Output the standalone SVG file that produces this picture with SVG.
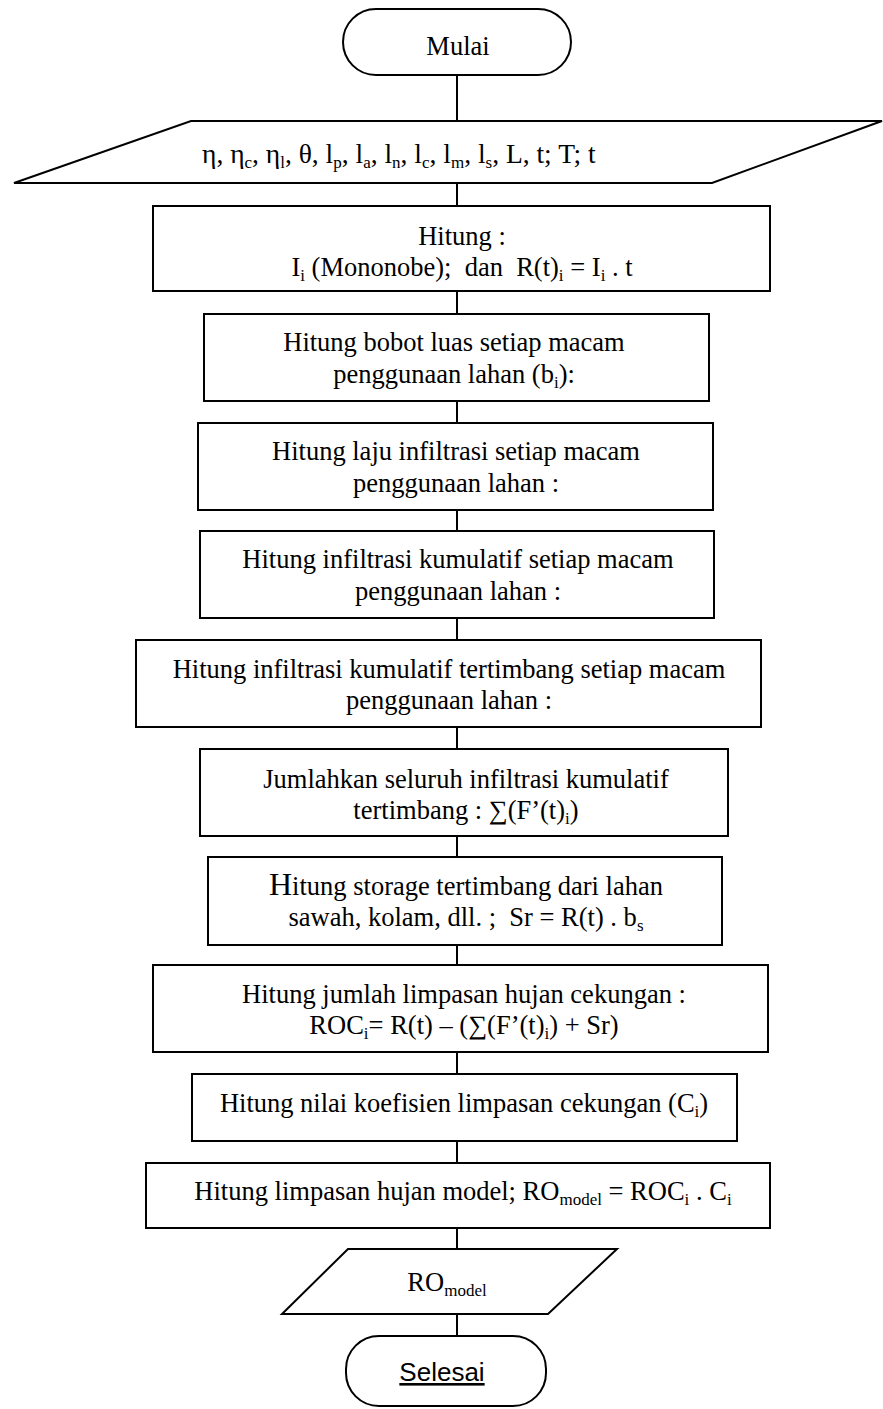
<svg xmlns="http://www.w3.org/2000/svg" width="883" height="1409" viewBox="0 0 883 1409">
<style>
.t{font-family:"Liberation Serif","Times New Roman",serif;font-size:26.5px;fill:#000;text-anchor:middle}
.l{text-anchor:start;font-size:27.5px}
.b{fill:#fff;stroke:#000;stroke-width:2}
.c{stroke:#000;stroke-width:2;fill:none}
.a{font-family:"Liberation Sans",Arial,sans-serif;font-size:26px;fill:#000;text-anchor:middle;text-decoration:underline}
.s{font-size:17px}
</style>
<rect width="883" height="1409" fill="#fff"/>
<g id="connectors">
<line class="c" x1="457" y1="75" x2="457" y2="121"/>
<line class="c" x1="457" y1="183" x2="457" y2="206"/>
<line class="c" x1="457" y1="291" x2="457" y2="314"/>
<line class="c" x1="457" y1="401" x2="457" y2="423"/>
<line class="c" x1="457" y1="510" x2="457" y2="531"/>
<line class="c" x1="457" y1="618" x2="457" y2="640"/>
<line class="c" x1="457" y1="727" x2="457" y2="749"/>
<line class="c" x1="457" y1="836" x2="457" y2="857"/>
<line class="c" x1="457" y1="945" x2="457" y2="965"/>
<line class="c" x1="457" y1="1052" x2="457" y2="1074"/>
<line class="c" x1="457" y1="1141" x2="457" y2="1163"/>
<line class="c" x1="457" y1="1228" x2="457" y2="1249"/>
<line class="c" x1="457" y1="1314" x2="457" y2="1336"/>
</g>
<g id="mulai">
<rect class="b" x="343" y="9" width="228" height="66" rx="33" ry="33"/>
<text class="t" x="458" y="55">Mulai</text>
</g>
<g id="input">
<polygon class="b" points="191,121 882,121 712,183 14,183"/>
<text class="t l" x="202" y="163">η, η<tspan class="s" dy="5">c</tspan><tspan dy="-5">, η</tspan><tspan class="s" dy="5">l</tspan><tspan dy="-5">, θ, l</tspan><tspan class="s" dy="5">p</tspan><tspan dy="-5">, l</tspan><tspan class="s" dy="5">a</tspan><tspan dy="-5">, l</tspan><tspan class="s" dy="5">n</tspan><tspan dy="-5">, l</tspan><tspan class="s" dy="5">c</tspan><tspan dy="-5">, l</tspan><tspan class="s" dy="5">m</tspan><tspan dy="-5">, l</tspan><tspan class="s" dy="5">s</tspan><tspan dy="-5">, L, t; T; t</tspan></text>
</g>
<g id="box1">
<rect class="b" x="153" y="206" width="617" height="85"/>
<text class="t" x="462" y="245">Hitung :</text>
<text class="t" x="462" y="276" xml:space="preserve">I<tspan class="s" dy="5">i</tspan><tspan dy="-5"> (Mononobe);  dan  R(t)</tspan><tspan class="s" dy="5">i</tspan><tspan dy="-5"> = I</tspan><tspan class="s" dy="5">i</tspan><tspan dy="-5"> . t</tspan></text>
</g>
<g id="box2">
<rect class="b" x="204" y="314" width="505" height="87"/>
<text class="t" x="454" y="351">Hitung bobot luas setiap macam</text>
<text class="t" x="454" y="383">penggunaan lahan (b<tspan class="s" dy="5">i</tspan><tspan dy="-5">):</tspan></text>
</g>
<g id="box3">
<rect class="b" x="198" y="423" width="515" height="87"/>
<text class="t" x="456" y="460">Hitung laju infiltrasi setiap macam</text>
<text class="t" x="456" y="492">penggunaan lahan :</text>
</g>
<g id="box4">
<rect class="b" x="200" y="531" width="514" height="87"/>
<text class="t" x="458" y="568">Hitung infiltrasi kumulatif setiap macam</text>
<text class="t" x="458" y="600">penggunaan lahan :</text>
</g>
<g id="box5">
<rect class="b" x="136" y="640" width="625" height="87"/>
<text class="t" x="449" y="678">Hitung infiltrasi kumulatif tertimbang setiap macam</text>
<text class="t" x="449" y="709">penggunaan lahan :</text>
</g>
<g id="box6">
<rect class="b" x="200" y="749" width="528" height="87"/>
<text class="t" x="466" y="788">Jumlahkan seluruh infiltrasi kumulatif</text>
<text class="t" x="466" y="819">tertimbang : ∑(F’(t)<tspan class="s" dy="5">i</tspan><tspan dy="-5">)</tspan></text>
</g>
<g id="box7">
<rect class="b" x="208" y="857" width="514" height="88"/>
<text class="t" x="466" y="895"><tspan font-size="32">H</tspan>itung storage tertimbang dari lahan</text>
<text class="t" x="466" y="926" xml:space="preserve">sawah, kolam, dll. ;  Sr = R(t) . b<tspan class="s" dy="5">s</tspan></text>
</g>
<g id="box8">
<rect class="b" x="153" y="965" width="615" height="87"/>
<text class="t" x="464" y="1003">Hitung jumlah limpasan hujan cekungan :</text>
<text class="t" x="464" y="1034">ROC<tspan class="s" dy="5">i</tspan><tspan dy="-5">= R(t) – (∑(F’(t)</tspan><tspan class="s" dy="5">i</tspan><tspan dy="-5">) + Sr)</tspan></text>
</g>
<g id="box9">
<rect class="b" x="192" y="1074" width="545" height="67"/>
<text class="t" x="464" y="1112">Hitung nilai koefisien limpasan cekungan (C<tspan class="s" dy="5">i</tspan><tspan dy="-5">)</tspan></text>
</g>
<g id="box10">
<rect class="b" x="146" y="1163" width="624" height="65"/>
<text class="t" x="463" y="1200">Hitung limpasan hujan model; RO<tspan class="s" dy="5">model</tspan><tspan dy="-5"> = ROC</tspan><tspan class="s" dy="5">i</tspan><tspan dy="-5"> . C</tspan><tspan class="s" dy="5">i</tspan></text>
</g>
<g id="output">
<polygon class="b" points="348,1249 617,1249 548,1314 282,1314"/>
<text class="t" x="447" y="1291">RO<tspan class="s" dy="5">model</tspan></text>
</g>
<g id="selesai">
<rect class="b" x="346" y="1336" width="200" height="70" rx="33" ry="33"/>
<text class="a" x="442" y="1381">Selesai</text>
</g>
</svg>
